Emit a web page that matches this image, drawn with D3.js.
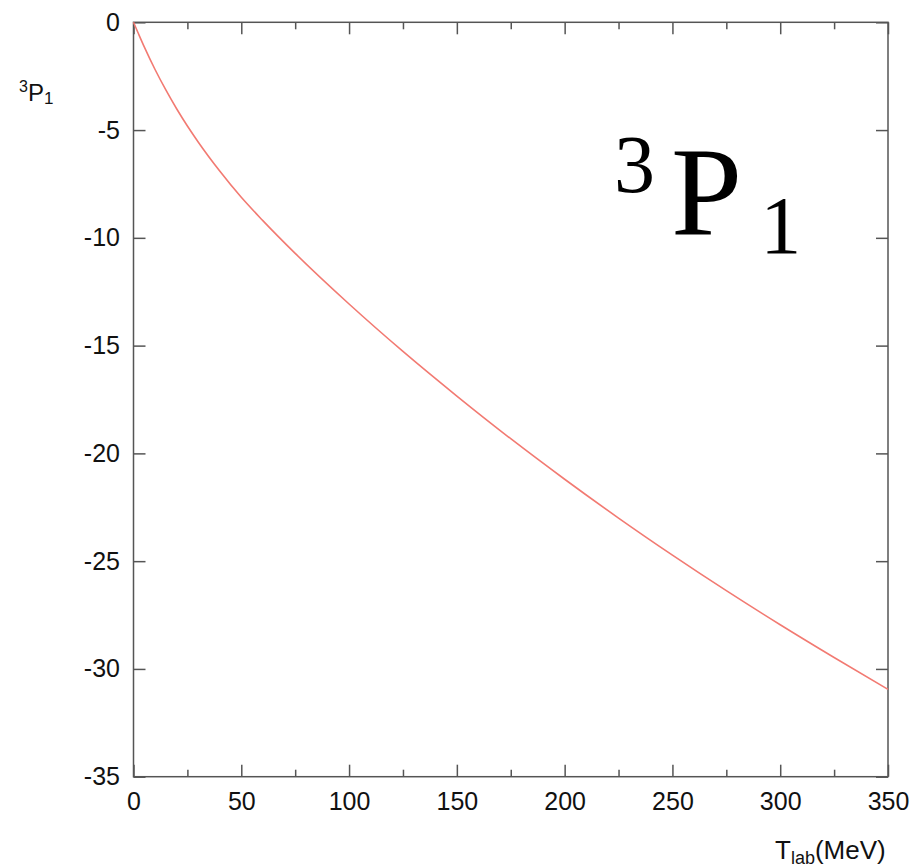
<!DOCTYPE html>
<html>
<head>
<meta charset="utf-8">
<script src="https://cdn.jsdelivr.net/npm/d3@7"></script>
<style>
  html, body { margin: 0; padding: 0; background: #fff; }
  svg { display: block; }
  .tick text { font-family: "Liberation Sans", Arial, sans-serif; font-size: 25px; fill: #111; }
</style>
</head>
<body>
<svg id="chart"></svg>
<script>
// phase shift 3P1 (deg) vs T_lab (MeV)
const tlab = [0, 2, 5, 10, 15, 20, 25, 30, 40, 50, 60, 75, 100, 125, 150, 175, 200, 225, 250, 275, 300, 325, 350];
const phase = [0, -0.46, -1.14, -2.19, -3.14, -4.01, -4.81, -5.55, -6.9, -8.12, -9.2, -10.72, -13.07, -15.27, -17.34, -19.32, -21.2, -23.0, -24.72, -26.37, -27.95, -29.47, -30.95];

const xMajor = [0, 50, 100, 150, 200, 250, 300, 350];
const xMinor = [25, 75, 125, 175, 225, 275, 325];
const yMajor = [0, -5, -10, -15, -20, -25, -30, -35];

const width = 916;
const height = 867;
const margin = { top: 22.3, right: 28, bottom: 90.3, left: 133.5 };
const frameColor = "#555";

const svg = d3.select("#chart").attr("width", width).attr("height", height);

const x = d3.scaleLinear().domain([0, 350]).range([margin.left, width - margin.right]);
const y = d3.scaleLinear().domain([-35, 0]).range([height - margin.bottom, margin.top]);

// plain hyphen minus like the original
const plain = (d) => String(d);

function styleAxis(g) {
  g.select(".domain").remove();
  g.selectAll(".tick line").attr("stroke", frameColor).attr("stroke-width", 1.5);
}

// bottom
svg.append("g")
  .attr("transform", `translate(0,${y(-35)})`)
  .call(d3.axisBottom(x).tickValues(xMajor).tickSize(-12).tickPadding(15.5).tickFormat(plain))
  .call(styleAxis);
svg.append("g")
  .attr("transform", `translate(0,${y(-35)})`)
  .call(d3.axisBottom(x).tickValues(xMinor).tickSize(-7).tickFormat(""))
  .call(styleAxis);

// top
svg.append("g")
  .attr("transform", `translate(0,${y(0)})`)
  .call(d3.axisTop(x).tickValues(xMajor).tickSize(-12).tickFormat(""))
  .call(styleAxis);
svg.append("g")
  .attr("transform", `translate(0,${y(0)})`)
  .call(d3.axisTop(x).tickValues(xMinor).tickSize(-7).tickFormat(""))
  .call(styleAxis);

// left
svg.append("g")
  .attr("transform", `translate(${x(0)},0)`)
  .call(d3.axisLeft(y).tickValues(yMajor).tickSize(-12).tickPadding(13.5).tickFormat(plain))
  .call(styleAxis);

// right
svg.append("g")
  .attr("transform", `translate(${x(350)},0)`)
  .call(d3.axisRight(y).tickValues(yMajor).tickSize(-12).tickFormat(""))
  .call(styleAxis);

// frame
svg.append("rect")
  .attr("x", x(0))
  .attr("y", y(0))
  .attr("width", x(350) - x(0))
  .attr("height", y(-35) - y(0))
  .attr("fill", "none")
  .attr("stroke", frameColor)
  .attr("stroke-width", 1.5);

// curve
const line = d3.line()
  .x((d, i) => x(tlab[i]))
  .y((d) => y(d))
  .curve(d3.curveMonotoneX);

svg.append("path")
  .datum(phase)
  .attr("d", line)
  .attr("fill", "none")
  .attr("stroke", "#f27a72")
  .attr("stroke-width", 1.6);

// y label
const yLab = svg.append("text")
  .attr("x", 19)
  .attr("y", 101)
  .attr("style", "font-family:'Liberation Sans',Arial,sans-serif;font-size:24px;fill:#111;");
yLab.append("tspan").attr("font-size", 16).attr("dy", -9).text("3");
yLab.append("tspan").attr("dy", 9).text("P");
yLab.append("tspan").attr("font-size", 17).attr("dy", 3).text("1");

// x label
const xLab = svg.append("text")
  .attr("x", 775)
  .attr("y", 859)
  .attr("style", "font-family:'Liberation Sans',Arial,sans-serif;font-size:26px;fill:#111;");
xLab.append("tspan").text("T");
xLab.append("tspan").attr("font-size", 18).attr("dy", 5).text("lab");
xLab.append("tspan").attr("dy", -5).text("(MeV)");

// big annotation
const big = svg.append("text")
  .attr("x", 614)
  .attr("y", 235)
  .attr("style", "font-family:'Liberation Serif','Times New Roman',serif;fill:#000;");
big.append("tspan").attr("font-size", 82).attr("dy", -43).text("3");
big.append("tspan").attr("font-size", 128).attr("dx", 16).attr("dy", 43).text("P");
big.append("tspan").attr("font-size", 82).attr("dx", 18).attr("dy", 18).text("1");
</script>
</body>
</html>
